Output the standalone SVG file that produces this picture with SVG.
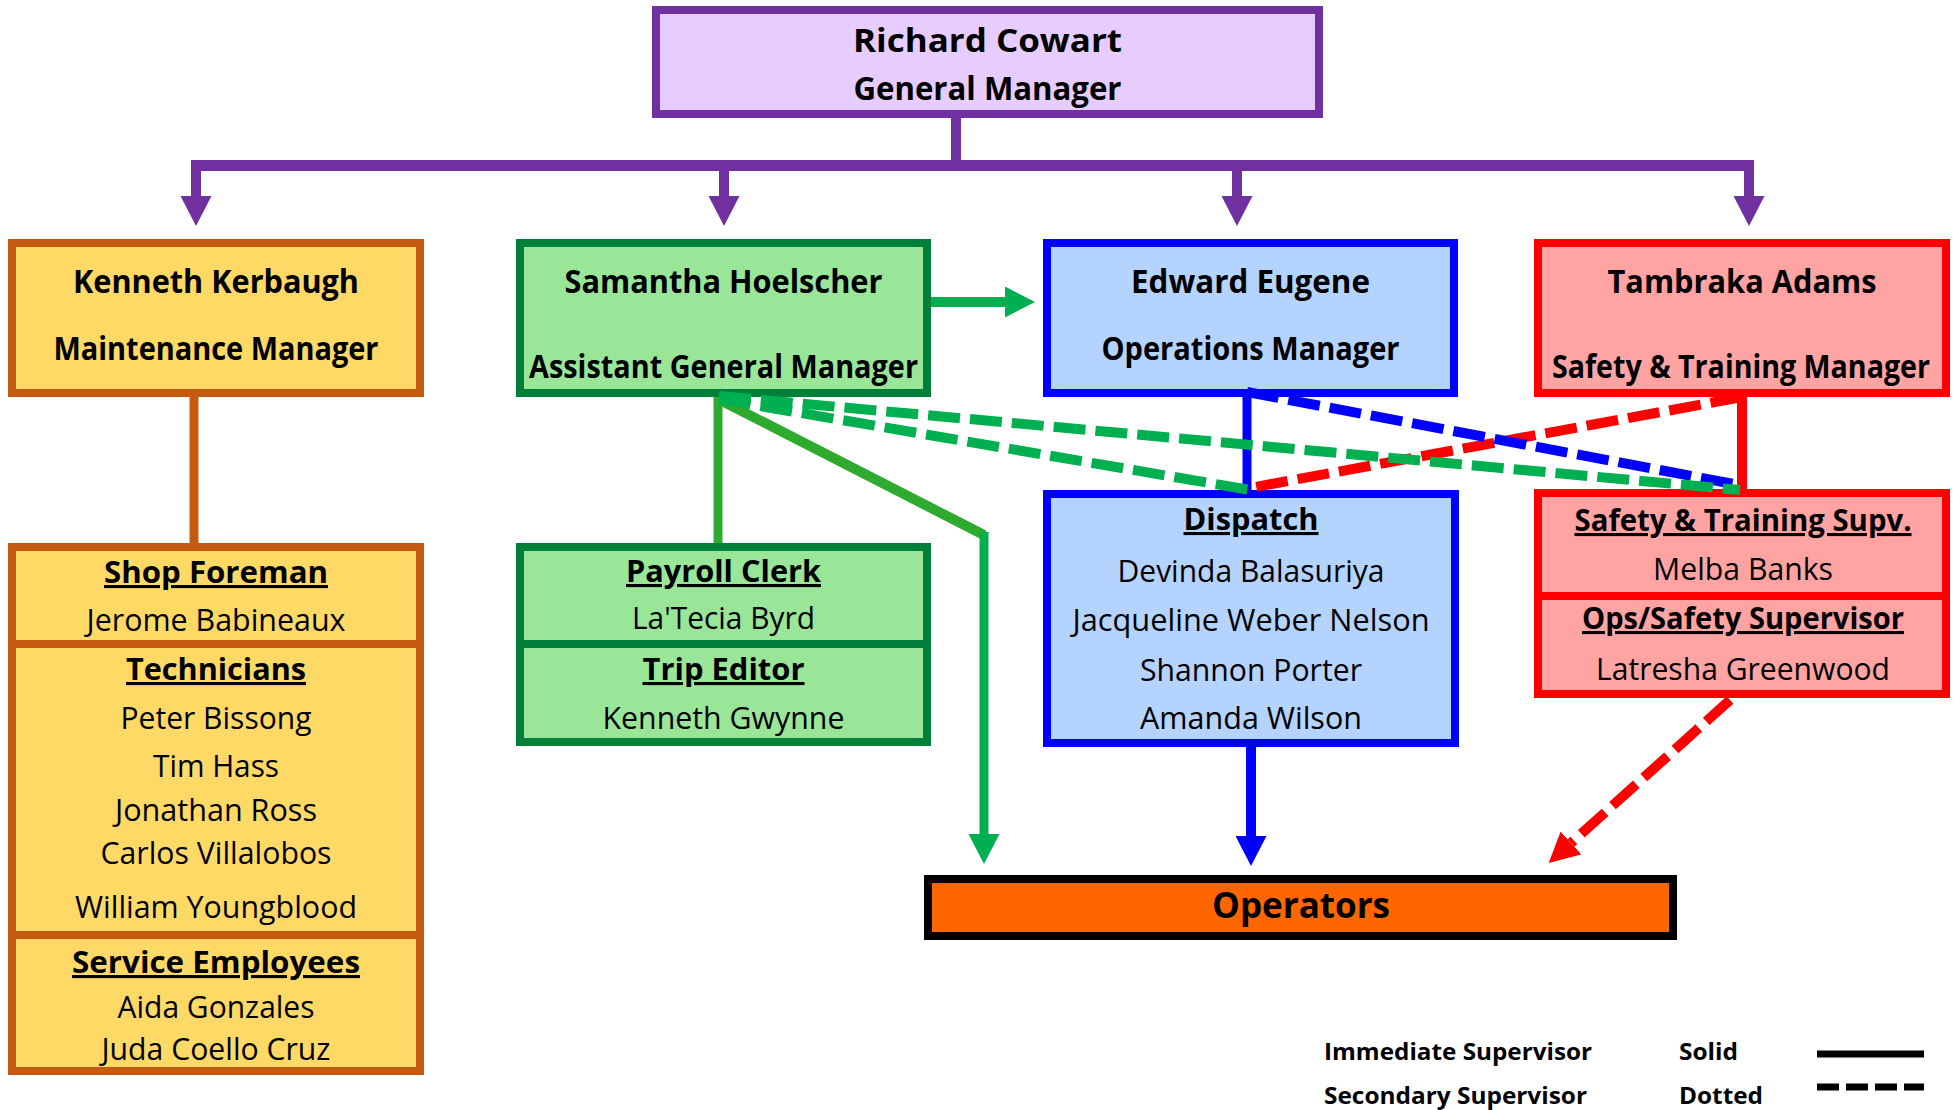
<svg xmlns="http://www.w3.org/2000/svg" width="1955" height="1110" viewBox="0 0 1955 1110">
<style>
text{font-family:"Open Sans","Liberation Sans",sans-serif;text-anchor:middle;fill:#000}
.h{font-weight:bold;font-size:33px}
.s{font-weight:bold;font-size:31px;text-decoration:underline}
.n{font-size:31px}
.lg{font-weight:bold;font-size:24px;text-anchor:start}
.box{stroke-width:8}
.purple{fill:#E6CCFF;stroke:#7030A0}
.orange{fill:#FFD966;stroke:#C55A11}
.green{fill:#99E699;stroke:#007F3A}
.blue{fill:#B4D3FF;stroke:#0000FF}
.red{fill:#FFA3A3;stroke:#FF0000}
.ln{fill:none}
.dash{stroke-dasharray:32 10;stroke-width:10;fill:none}
</style>
<defs>
<marker id="ap" viewBox="0 0 30 31" refX="0" refY="15.5" markerWidth="30" markerHeight="31" markerUnits="userSpaceOnUse" orient="auto"><path d="M0,0 L30,15.5 L0,31 z" fill="#7030A0"/></marker>
<marker id="ag" viewBox="0 0 30 31" refX="0" refY="15.5" markerWidth="30" markerHeight="31" markerUnits="userSpaceOnUse" orient="auto"><path d="M0,0 L30,15.5 L0,31 z" fill="#00B050"/></marker>
<marker id="ab" viewBox="0 0 30 31" refX="0" refY="15.5" markerWidth="30" markerHeight="31" markerUnits="userSpaceOnUse" orient="auto"><path d="M0,0 L30,15.5 L0,31 z" fill="#0000FF"/></marker>
<marker id="ar" viewBox="0 0 30 31" refX="0" refY="15.5" markerWidth="30" markerHeight="31" markerUnits="userSpaceOnUse" orient="auto"><path d="M0,0 L30,15.5 L0,31 z" fill="#FF0000"/></marker>
</defs>
<rect width="1955" height="1110" fill="#FFFFFF"/>

<g id="gm">
<rect class="box purple" x="656" y="10" width="663" height="104"/>
<text class="h" x="987.5" y="52" textLength="269" lengthAdjust="spacingAndGlyphs">Richard Cowart</text>
<text class="h" x="987.5" y="100" textLength="268" lengthAdjust="spacingAndGlyphs">General Manager</text>
</g>

<g id="maint-mgr">
<rect class="box orange" x="12" y="243" width="408" height="150"/>
<text class="h" x="216" y="293" textLength="286" lengthAdjust="spacingAndGlyphs">Kenneth Kerbaugh</text>
<text class="h" x="216" y="360" textLength="325" lengthAdjust="spacingAndGlyphs">Maintenance Manager</text>
</g>

<g id="agm">
<rect class="box green" x="520" y="243" width="407" height="150"/>
<text class="h" x="723.5" y="293" textLength="318" lengthAdjust="spacingAndGlyphs">Samantha Hoelscher</text>
<text class="h" x="723.5" y="378" textLength="389" lengthAdjust="spacingAndGlyphs">Assistant General Manager</text>
</g>

<g id="ops-mgr">
<rect class="box blue" x="1047" y="243" width="407" height="150"/>
<text class="h" x="1250.5" y="293" textLength="239" lengthAdjust="spacingAndGlyphs">Edward Eugene</text>
<text class="h" x="1250.5" y="360" textLength="298" lengthAdjust="spacingAndGlyphs">Operations Manager</text>
</g>

<g id="safety-mgr">
<rect class="box red" x="1538" y="243" width="408" height="150"/>
<text class="h" x="1742" y="293" textLength="269" lengthAdjust="spacingAndGlyphs">Tambraka Adams</text>
<text class="h" x="1741" y="378" textLength="378" lengthAdjust="spacingAndGlyphs">Safety &amp; Training Manager</text>
</g>

<g id="maint-staff">
<rect class="box orange" x="12" y="547" width="408" height="524"/>
<line x1="12" y1="644" x2="420" y2="644" stroke="#C55A11" stroke-width="8"/>
<line x1="12" y1="935" x2="420" y2="935" stroke="#C55A11" stroke-width="8"/>
<text class="s" x="216" y="583" textLength="224" lengthAdjust="spacingAndGlyphs">Shop Foreman</text>
<text class="n" x="216" y="631" textLength="259" lengthAdjust="spacingAndGlyphs">Jerome Babineaux</text>
<text class="s" x="216" y="680" textLength="180" lengthAdjust="spacingAndGlyphs">Technicians</text>
<text class="n" x="216" y="729" textLength="191" lengthAdjust="spacingAndGlyphs">Peter Bissong</text>
<text class="n" x="216" y="777" textLength="126" lengthAdjust="spacingAndGlyphs">Tim Hass</text>
<text class="n" x="216" y="821" textLength="202" lengthAdjust="spacingAndGlyphs">Jonathan Ross</text>
<text class="n" x="216" y="864" textLength="231" lengthAdjust="spacingAndGlyphs">Carlos Villalobos</text>
<text class="n" x="216" y="918" textLength="282" lengthAdjust="spacingAndGlyphs">William Youngblood</text>
<text class="s" x="216" y="973" textLength="288" lengthAdjust="spacingAndGlyphs">Service Employees</text>
<text class="n" x="216" y="1018" textLength="197" lengthAdjust="spacingAndGlyphs">Aida Gonzales</text>
<text class="n" x="216" y="1060" textLength="229" lengthAdjust="spacingAndGlyphs">Juda Coello Cruz</text>
</g>

<g id="admin-staff">
<rect class="box green" x="520" y="547" width="407" height="195"/>
<line x1="520" y1="644" x2="927" y2="644" stroke="#007F3A" stroke-width="8"/>
<text class="s" x="723.5" y="582" textLength="195" lengthAdjust="spacingAndGlyphs">Payroll Clerk</text>
<text class="n" x="723.5" y="629" textLength="183" lengthAdjust="spacingAndGlyphs">La'Tecia Byrd</text>
<text class="s" x="723.5" y="680" textLength="162" lengthAdjust="spacingAndGlyphs">Trip Editor</text>
<text class="n" x="723.5" y="729" textLength="242" lengthAdjust="spacingAndGlyphs">Kenneth Gwynne</text>
</g>

<g id="dispatch">
<rect class="box blue" x="1047" y="494" width="408" height="249"/>
<text class="s" x="1251" y="530" textLength="135" lengthAdjust="spacingAndGlyphs">Dispatch</text>
<text class="n" x="1251" y="582" textLength="267" lengthAdjust="spacingAndGlyphs">Devinda Balasuriya</text>
<text class="n" x="1251" y="631" textLength="357" lengthAdjust="spacingAndGlyphs">Jacqueline Weber Nelson</text>
<text class="n" x="1251" y="681" textLength="222" lengthAdjust="spacingAndGlyphs">Shannon Porter</text>
<text class="n" x="1251" y="729" textLength="222" lengthAdjust="spacingAndGlyphs">Amanda Wilson</text>
</g>

<g id="safety-staff">
<rect class="box red" x="1538" y="493" width="408" height="201"/>
<line x1="1538" y1="596" x2="1946" y2="596" stroke="#FF0000" stroke-width="8"/>
<text class="s" x="1743" y="531" textLength="337" lengthAdjust="spacingAndGlyphs">Safety &amp; Training Supv.</text>
<text class="n" x="1743" y="580" textLength="180" lengthAdjust="spacingAndGlyphs">Melba Banks</text>
<text class="s" x="1743" y="629" textLength="322" lengthAdjust="spacingAndGlyphs">Ops/Safety Supervisor</text>
<text class="n" x="1743" y="680" textLength="294" lengthAdjust="spacingAndGlyphs">Latresha Greenwood</text>
</g>

<g id="operators">
<rect x="928" y="879" width="745" height="57" fill="#FF6600" stroke="#000000" stroke-width="8"/>
<text x="1301" y="918" font-weight="bold" font-size="35" textLength="178" lengthAdjust="spacingAndGlyphs">Operators</text>
</g>

<g id="connectors">
<line class="ln" x1="956" y1="114" x2="956" y2="166" stroke="#7030A0" stroke-width="10"/>
<line class="ln" x1="191" y1="165.5" x2="1754" y2="165.5" stroke="#7030A0" stroke-width="11"/>
<line class="ln" x1="196" y1="165" x2="196" y2="196" stroke="#7030A0" stroke-width="10" marker-end="url(#ap)"/>
<line class="ln" x1="724" y1="165" x2="724" y2="196" stroke="#7030A0" stroke-width="10" marker-end="url(#ap)"/>
<line class="ln" x1="1237" y1="165" x2="1237" y2="196" stroke="#7030A0" stroke-width="10" marker-end="url(#ap)"/>
<line class="ln" x1="1749" y1="165" x2="1749" y2="196" stroke="#7030A0" stroke-width="10" marker-end="url(#ap)"/>

<line class="ln" x1="931" y1="302" x2="1005" y2="302" stroke="#00B050" stroke-width="10" marker-end="url(#ag)"/>

<line class="ln" x1="194" y1="397" x2="194" y2="543" stroke="#C55A11" stroke-width="9"/>
<line class="ln" x1="718" y1="397" x2="718" y2="543" stroke="#2EAA2E" stroke-width="9"/>
<polyline class="ln" points="720,400 984,535" stroke="#2EAA2E" stroke-width="10"/>
<polyline class="ln" points="984,532 984,834" stroke="#00B050" stroke-width="9" marker-end="url(#ag)"/>

<line class="ln" x1="1247" y1="397" x2="1247" y2="490" stroke="#0000FF" stroke-width="9"/>
<line class="ln" x1="1742" y1="397" x2="1742" y2="489" stroke="#FF0000" stroke-width="10"/>
<line class="ln" x1="1251" y1="747" x2="1251" y2="836" stroke="#0000FF" stroke-width="10" marker-end="url(#ab)"/>

<line class="dash" x1="1742" y1="397" x2="1250" y2="488" stroke="#FF0000"/>
<line class="dash" x1="1247" y1="392" x2="1739" y2="485" stroke="#0000FF"/>
<line class="dash" x1="719" y1="396" x2="1740" y2="490" stroke="#00B050"/>
<line class="dash" x1="719" y1="399" x2="1250" y2="490" stroke="#00B050"/>
<line class="dash" x1="1730" y1="700" x2="1571" y2="843" stroke="#FF0000" marker-end="url(#ar)"/>
</g>

<g id="legend">
<text class="lg" x="1324" y="1060" textLength="268" lengthAdjust="spacingAndGlyphs">Immediate Supervisor</text>
<text class="lg" x="1679" y="1060" textLength="59" lengthAdjust="spacingAndGlyphs">Solid</text>
<text class="lg" x="1324" y="1104" textLength="263" lengthAdjust="spacingAndGlyphs">Secondary Supervisor</text>
<text class="lg" x="1679" y="1104" textLength="84" lengthAdjust="spacingAndGlyphs">Dotted</text>
<line x1="1817" y1="1054" x2="1924" y2="1054" stroke="#000" stroke-width="7"/>
<line x1="1817" y1="1087" x2="1924" y2="1087" stroke="#000" stroke-width="7" stroke-dasharray="22 7"/>
</g>
</svg>
